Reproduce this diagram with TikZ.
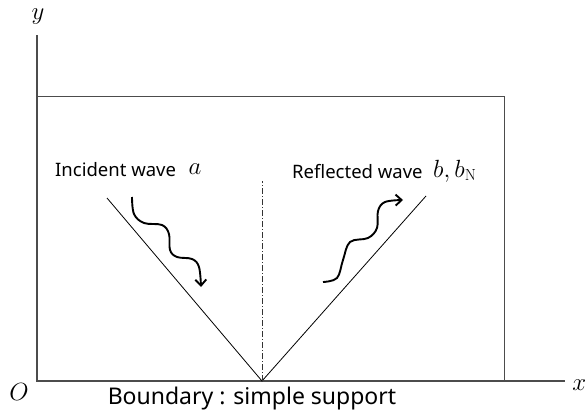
\documentclass[tikz,border=0pt]{standalone}
\usepackage{fontspec}
\setsansfont{Noto Sans}
\usetikzlibrary{arrows.meta, positioning, calc}
\tikzset{
  axis/.style={draw=black!70, line width=1.1pt},
  frame/.style={draw=black!70, line width=1pt},
  ray/.style={draw=black, line width=0.8pt},
  normal/.style={draw=black!80, line width=0.9pt, dash pattern=on 6pt off 2pt on 1pt off 2pt},
  wavearrow/.style={draw=black, line width=1.9pt, -{Straight Barb[length=6pt, width=11pt, line width=1.9pt]}},
  label/.style={font=\sffamily\fontsize{18.5}{21}\selectfont},
  mathlabel/.style={font=\fontsize{23}{26}\selectfont},
}
\begin{document}
\begin{tikzpicture}[x=1pt, y=-1pt]
  \useasboundingbox (0,0) rectangle (587,415);

  %% Axes and plate
  \coordinate (O) at (37,381);
  \coordinate (ytop) at (37,35);
  \coordinate (xend) at (565,381);
  \draw[axis] (ytop) -- (O) -- (xend);
  \draw[frame] (37,96) rectangle (504,381);
  \node[mathlabel] (ylbl) at (38,17) {$y$};
  \node[mathlabel, anchor=east, inner sep=0.5pt] (xlbl) at (587,385) {$x$};
  \node[mathlabel] (olbl) at (19,392) {$O$};

  %% Rays and normal
  \coordinate (apex) at (262,381);
  \coordinate (inc) at (107,198);
  \coordinate (refl) at (426,196);
  \coordinate (ntop) at (262,181);
  \draw[ray] (inc) -- (apex) -- (refl);
  \draw[normal] (apex) -- (ntop);

  %% Wavy arrows
  \draw[wavearrow] plot[smooth, tension=0.6] coordinates {
    (132,197) (134,214) (144,223) (162,225) (169,234) (170,250) (177,257) (192,259) (199,267) (201,287)};
  \draw[wavearrow] plot[smooth, tension=0.6] coordinates {
    (323,282) (337,278) (343,260) (350,242) (368,238) (377,228) (378,211) (385,202) (403,200)};

  %% Labels
  \node[label, anchor=west, inner sep=0pt] (inclbl) at (55,170) {Incident wave};
  \node[mathlabel] (alpha) at (195,169) {$a$};
  \node[label, anchor=west, inner sep=0pt] (refllbl) at (292,172) {Reflected wave};
  \node[mathlabel, anchor=west, inner sep=0pt] (blbl) at (433,171) {$b,b_{\mathrm{N}}$};
  \node[label, font=\sffamily\fontsize{23}{26}\selectfont] (bnd) at (252,399) {Boundary : simple support};
\end{tikzpicture}
\end{document}
